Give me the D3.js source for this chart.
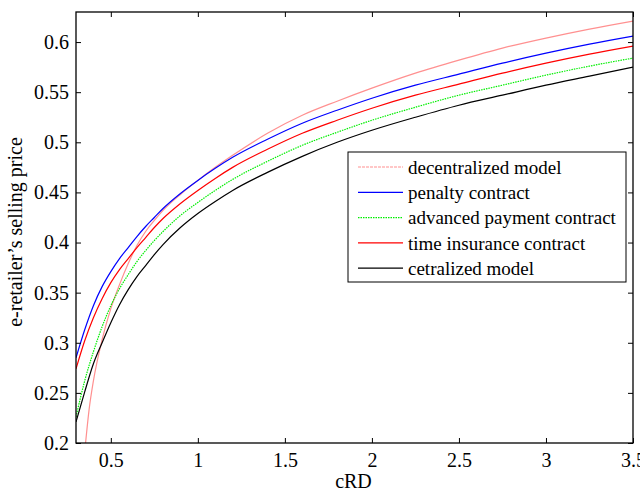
<!DOCTYPE html>
<html>
<head>
<meta charset="utf-8">
<script src="https://cdn.jsdelivr.net/npm/d3@7"></script>
<style>
  body { margin: 0; background: #fff; }
  svg { display: block; font-family: "Liberation Serif", "Times New Roman", serif; }
</style>
</head>
<body>
<div id="chart"></div>
<script>
// values
const xVals = [0.3, 0.35, 0.4, 0.45, 0.5, 0.55, 0.6, 0.65, 0.7, 0.75, 0.8, 0.9, 1.0, 1.1, 1.2, 1.4, 1.6, 1.8, 2.0, 2.25, 2.5, 2.75, 3.0, 3.25, 3.5];
const penalty = [0.285, 0.313, 0.337, 0.356, 0.371, 0.384, 0.395, 0.406, 0.416, 0.425, 0.434, 0.449, 0.462, 0.474, 0.485, 0.503, 0.519, 0.532, 0.544, 0.557, 0.568, 0.579, 0.589, 0.598, 0.606];
const advanced = [0.226, 0.262, 0.291, 0.316, 0.337, 0.354, 0.368, 0.381, 0.392, 0.402, 0.411, 0.427, 0.440, 0.452, 0.463, 0.481, 0.497, 0.510, 0.522, 0.535, 0.547, 0.557, 0.567, 0.576, 0.584];
const timeIns = [0.274, 0.302, 0.325, 0.344, 0.360, 0.373, 0.384, 0.395, 0.405, 0.415, 0.424, 0.439, 0.452, 0.464, 0.475, 0.493, 0.509, 0.522, 0.534, 0.547, 0.558, 0.569, 0.579, 0.588, 0.596];
const central = [0.221, 0.251, 0.279, 0.300, 0.320, 0.338, 0.353, 0.366, 0.377, 0.388, 0.398, 0.415, 0.429, 0.441, 0.452, 0.470, 0.486, 0.500, 0.512, 0.525, 0.537, 0.547, 0.557, 0.566, 0.575];
// decentralized curve enters the plot from below, so it has its own x values
const decX = [0.355, 0.375, 0.4, 0.45, 0.5, 0.55, 0.6, 0.65, 0.7, 0.75, 0.8, 0.9, 1.0, 1.1, 1.2, 1.4, 1.6, 1.8, 2.0, 2.25, 2.5, 2.75, 3.0, 3.25, 3.5];
const decentral = [0.200, 0.233, 0.262, 0.303, 0.334, 0.358, 0.379, 0.397, 0.411, 0.422, 0.432, 0.448, 0.462, 0.475, 0.487, 0.509, 0.527, 0.541, 0.554, 0.569, 0.582, 0.594, 0.604, 0.613, 0.621];

const xTicks = [0.5, 1, 1.5, 2, 2.5, 3, 3.5];
const yTicks = [0.2, 0.25, 0.3, 0.35, 0.4, 0.45, 0.5, 0.55, 0.6];
const legendNames = ['decentralized model', 'penalty contract', 'advanced payment contract', 'time insurance contract', 'cetralized model'];

const series = [
  { name: legendNames[0], xs: decX, ys: decentral, color: '#ff9090', dash: null },
  { name: legendNames[1], xs: xVals, ys: penalty, color: '#0000ff', dash: null },
  { name: legendNames[2], xs: xVals, ys: advanced, color: '#00ee00', dash: '1.5,1' },
  { name: legendNames[3], xs: xVals, ys: timeIns, color: '#ff0000', dash: null },
  { name: legendNames[4], xs: xVals, ys: central, color: '#000000', dash: null }
];

const width = 640, height = 492;
const margin = { top: 12, right: 7, bottom: 49, left: 76 };
const plotW = width - margin.left - margin.right;
const plotH = height - margin.top - margin.bottom;

const svg = d3.select('#chart').append('svg')
  .attr('width', width)
  .attr('height', height);

const g = svg.append('g')
  .attr('transform', `translate(${margin.left},${margin.top})`);

const x = d3.scaleLinear().domain([0.3, 3.5]).range([0, plotW]);
const y = d3.scaleLinear().domain([0.2, 0.63]).range([plotH, 0]);

g.append('clipPath').attr('id', 'clip')
  .append('rect').attr('width', plotW).attr('height', plotH);

const line = d3.line()
  .x(d => x(d[0]))
  .y(d => y(d[1]))
  .curve(d3.curveMonotoneX);

const curves = g.append('g').attr('clip-path', 'url(#clip)');
series.forEach(s => {
  curves.append('path')
    .datum(s.xs.map((v, i) => [v, s.ys[i]]))
    .attr('fill', 'none')
    .attr('stroke', s.color)
    .attr('stroke-width', 1.2)
    .attr('stroke-dasharray', s.dash)
    .attr('d', line);
});

// axes, matlab style: ticks inward on all four sides
const tickLen = 5;
g.append('g')
  .attr('transform', `translate(0,${plotH})`)
  .call(d3.axisBottom(x).tickValues(xTicks).tickSize(-tickLen).tickPadding(10).tickFormat(d => String(d)));
g.append('g')
  .call(d3.axisTop(x).tickValues(xTicks).tickSize(-tickLen).tickFormat(''));
g.append('g')
  .call(d3.axisLeft(y).tickValues(yTicks).tickSize(-tickLen).tickPadding(7).tickFormat(d => String(d)));
g.append('g')
  .attr('transform', `translate(${plotW},0)`)
  .call(d3.axisRight(y).tickValues(yTicks).tickSize(-tickLen).tickFormat(''));

g.selectAll('.domain').remove();
g.selectAll('.tick line').attr('stroke', '#000').attr('stroke-width', 1);
g.selectAll('.tick text')
  .attr('fill', '#000')
  .attr('font-family', '"Liberation Serif", serif')
  .style('font-size', '20px');

g.append('rect')
  .attr('width', plotW)
  .attr('height', plotH)
  .attr('fill', 'none')
  .attr('stroke', '#000')
  .attr('stroke-width', 1.3);

// axis titles
svg.append('text')
  .attr('x', margin.left + plotW / 2 - 1)
  .attr('y', 488)
  .attr('text-anchor', 'middle')
  .style('font-size', '20px')
  .text('cRD');

svg.append('text')
  .attr('transform', 'translate(22,232) rotate(-90)')
  .attr('text-anchor', 'middle')
  .style('font-size', '20px')
  .text('e-retailer’s selling price');

// legend
const legend = svg.append('g').attr('transform', 'translate(348,152)');
legend.append('rect')
  .attr('width', 278)
  .attr('height', 130)
  .attr('fill', '#fff')
  .attr('stroke', '#000')
  .attr('stroke-width', 1);

series.forEach((s, i) => {
  const ly = 15 + i * 25.3;
  legend.append('line')
    .attr('x1', 10).attr('x2', 55)
    .attr('y1', ly).attr('y2', ly)
    .attr('stroke', s.color)
    .attr('stroke-width', 1.2)
    .attr('stroke-dasharray', i === 0 ? '3,1' : s.dash);
  legend.append('text')
    .attr('x', 60)
    .attr('y', ly)
    .attr('dy', '.35em')
    .style('font-size', '19px')
    .text(s.name);
});
</script>
</body>
</html>
